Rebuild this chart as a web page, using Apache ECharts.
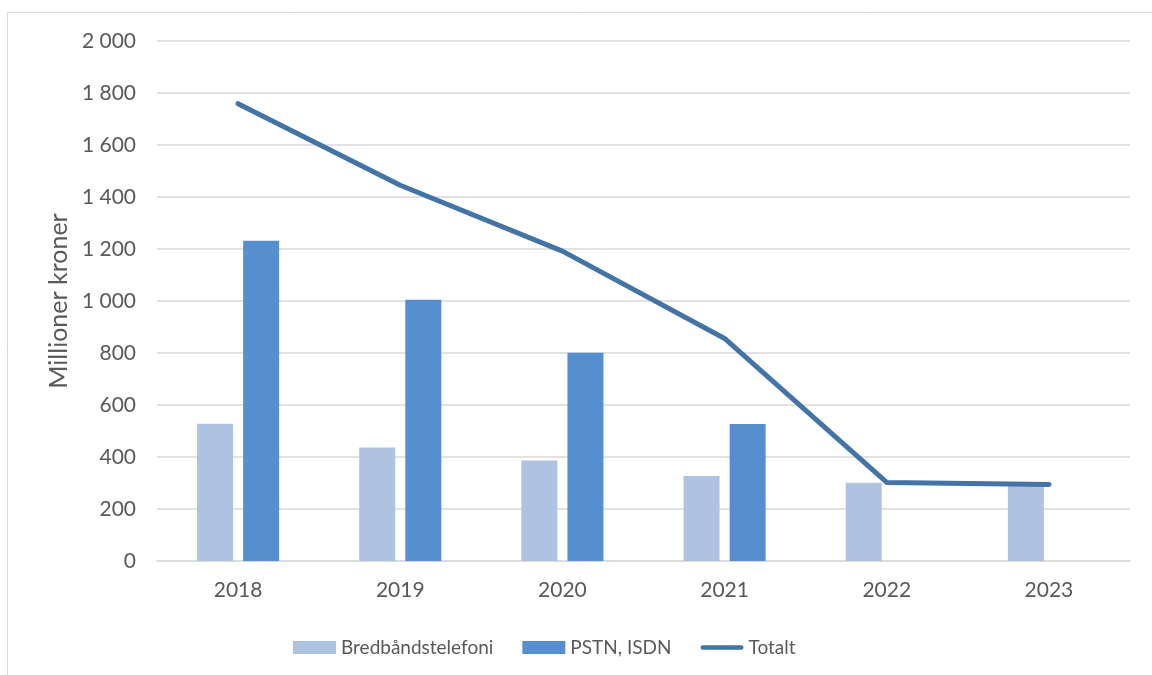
<!DOCTYPE html>
<html>
<head>
<meta charset="utf-8">
<script src="https://cdn.jsdelivr.net/npm/echarts@6/dist/echarts.min.js"></script>
<style>
html,body{margin:0;padding:0;background:#fff;}
#chart{width:1152px;height:675px;}
</style>
</head>
<body>
<div id="chart"></div>
<script>
const categories = ['2018', '2019', '2020', '2021', '2022', '2023'];
const bredbandstelefoni = [528, 437, 387, 327, 301, 293];
const pstnIsdn = [1232, 1005, 801, 527, null, null];
const totalt = [1759, 1445, 1192, 856, 302, 294];
const yTicks = [0, 200, 400, 600, 800, 1000, 1200, 1400, 1600, 1800, 2000];

const FONT = 'Lato, "Open Sans", sans-serif';
const TXT = '#595959';

function fmt(v) {
  const s = String(v);
  return s.length > 3 ? s.slice(0, s.length - 3) + ' ' + s.slice(-3) : s;
}

const chart = echarts.init(document.getElementById('chart'));
chart.setOption({
  animation: false,
  backgroundColor: '#fff',
  graphic: [{
    type: 'rect',
    shape: { x: 7.5, y: 12.5, width: 1160, height: 700 },
    style: { fill: 'none', stroke: '#d9d9d9', lineWidth: 1 },
    silent: true
  }],
  grid: { left: 157, right: 22, top: 41, bottom: 114, containLabel: false },
  legend: {
    left: 293,
    top: 638,
    padding: 0,
    itemWidth: 43,
    itemHeight: 13,
    itemGap: 29,
    textStyle: { color: TXT, fontSize: 19, fontFamily: FONT },
    data: [
      { name: 'Bredbåndstelefoni', icon: 'rect' },
      { name: 'PSTN, ISDN', icon: 'rect' },
      { name: 'Totalt', icon: 'path://M2.5,0 L45.5,0 A2.5,2.5 0 0 1 45.5,5 L2.5,5 A2.5,2.5 0 0 1 2.5,0 Z' }
    ]
  },
  xAxis: {
    type: 'category',
    data: categories,
    axisLine: { lineStyle: { color: '#d9d9d9', width: 1.5 } },
    axisTick: { show: false },
    axisLabel: { color: TXT, fontSize: 21, fontFamily: FONT, margin: 19 }
  },
  yAxis: {
    type: 'value',
    min: yTicks[0],
    max: yTicks[yTicks.length - 1],
    interval: 200,
    name: 'Millioner kroner',
    nameLocation: 'middle',
    nameGap: 86,
    nameRotate: 90,
    nameTextStyle: { color: TXT, fontSize: 25, fontFamily: FONT },
    axisLine: { show: false },
    axisTick: { show: false },
    splitLine: { lineStyle: { color: '#d9d9d9', width: 1.5 } },
    axisLabel: { color: TXT, fontSize: 21, fontFamily: FONT, margin: 21, formatter: fmt }
  },
  series: [
    {
      name: 'Bredbåndstelefoni',
      type: 'bar',
      data: bredbandstelefoni,
      barWidth: 36,
      barGap: '28%',
      itemStyle: { color: '#adc3e1' }
    },
    {
      name: 'PSTN, ISDN',
      type: 'bar',
      data: pstnIsdn,
      barWidth: 36,
      itemStyle: { color: '#558fcd' }
    },
    {
      name: 'Totalt',
      type: 'line',
      data: totalt,
      symbol: 'none',
      lineStyle: { color: '#4474a5', width: 5, cap: 'round', join: 'round' },
      itemStyle: { color: '#4474a5' }
    }
  ]
});
</script>
</body>
</html>
